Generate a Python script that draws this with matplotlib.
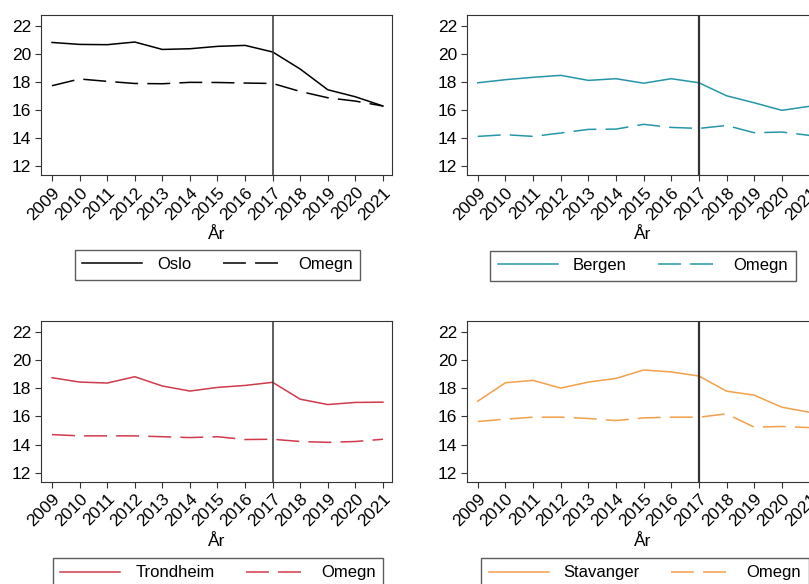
import matplotlib.pyplot as plt
import numpy as np

plt.rcParams["font.family"] = ["Liberation Sans", "DejaVu Sans"]

years = list(range(2009, 2022))

oslo = [20.83, 20.69, 20.67, 20.86, 20.33, 20.38, 20.55, 20.62, 20.15, 18.93, 17.45, 16.95, 16.29]
oslo_omegn = [17.74, 18.22, 18.05, 17.9, 17.88, 17.98, 17.97, 17.93, 17.9, 17.33, 16.88, 16.64, 16.29]

bergen = [17.95, 18.17, 18.34, 18.48, 18.12, 18.24, 17.92, 18.24, 17.95, 17.02, 16.52, 15.98, 16.27]
bergen_omegn = [14.12, 14.24, 14.12, 14.36, 14.62, 14.64, 14.98, 14.76, 14.69, 14.9, 14.38, 14.43, 14.19]

trondheim = [18.76, 18.45, 18.38, 18.83, 18.17, 17.81, 18.07, 18.21, 18.43, 17.23, 16.85, 17.0, 17.02]
trondheim_omegn = [14.71, 14.62, 14.62, 14.62, 14.56, 14.5, 14.56, 14.36, 14.38, 14.22, 14.16, 14.22, 14.38]

stavanger = [17.09, 18.4, 18.57, 18.02, 18.45, 18.71, 19.31, 19.17, 18.88, 17.8, 17.52, 16.66, 16.3]
stavanger_omegn = [15.64, 15.81, 15.95, 15.95, 15.86, 15.71, 15.9, 15.95, 15.95, 16.19, 15.24, 15.29, 15.21]

# name, city, omegn, colour, axes position, legend centre, width of the 2017 line
panels = [
    ("Oslo", oslo, oslo_omegn, "#000000", [0.0507, 0.7003, 0.4339, 0.274], (0.269, 0.547), 1.1),
    ("Bergen", bergen, bergen_omegn, "#2596a8", [0.5769, 0.7003, 0.435, 0.274], (0.7948, 0.545), 1.6),
    ("Trondheim", trondheim, trondheim_omegn, "#d03a4c", [0.0507, 0.1752, 0.4339, 0.275], (0.2695, 0.019), 1.1),
    ("Stavanger", stavanger, stavanger_omegn, "#f2a04a", [0.5769, 0.1752, 0.435, 0.275], (0.797, 0.019), 1.6),
]

fig = plt.figure(figsize=(8.09, 5.84), dpi=100)

for name, city, omegn, color, pos, legpos, vlw in panels:
    ax = fig.add_axes(pos)
    ax.plot(years, city, color=color, linewidth=1.1, label=name)
    ax.plot(years, omegn, color=color, linewidth=1.1, dashes=(15, 6), label="Omegn")
    ax.axvline(2017, color="#333333", linewidth=vlw)
    ax.set_xlim(2008.6, 2021.33)
    ax.set_ylim(11.36, 22.79)
    ax.set_yticks([12, 14, 16, 18, 20, 22])
    ax.set_xticks(years)
    ax.set_xticklabels([str(y) for y in years], rotation=45, ha="right", rotation_mode="anchor")
    ax.tick_params(labelsize=12.5, length=4, color="#333333", pad=3)
    ax.set_xlabel("År", fontsize=12.5, labelpad=3)
    for s in ax.spines.values():
        s.set_color("#333333")
    leg = fig.legend(*ax.get_legend_handles_labels(), loc="center", bbox_to_anchor=legpos,
                     ncol=2, fontsize=12, frameon=True, fancybox=False, edgecolor="#333333",
                     handlelength=3.6, handletextpad=0.9, columnspacing=1.9,
                     borderpad=0.45)
    leg.get_frame().set_linewidth(1.0)

fig.savefig("out.png", dpi=100)
